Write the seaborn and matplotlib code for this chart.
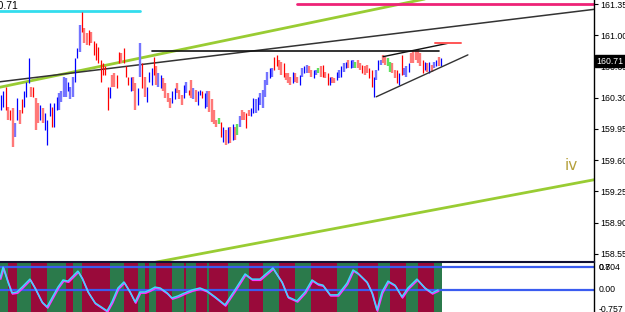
import matplotlib
matplotlib.use("Agg")
import matplotlib.pyplot as plt
import matplotlib.transforms as mtransforms
import numpy as np
import pandas as pd
import seaborn as sns

# Heiken-Ashi style price bars: kind, top and bottom price of every bar
# b/r = thin blue/red shadow, B/R = thick light body, g = green body
bar_kind = ("bbrRrRBbRrbbbRrRRbRbbbrbbBBBBbBBbbBrRRrRrrrrrrrbR"
            "RrrRrrrbRRbBrRbbbrRBbRRRRbbRRRbBrRBRbbrbBRRRRgrb"
            "RbRbRgBRRrRbbBbBBBBbBrrRRrRRRbRRbBbBRRbBgRrRrbR"
            "RbBbBbRbBgRRrRRrrbBbBRRggRRrbrBBbRRRRRrbRbRBbRb")
bar_high = [160.33, 160.37, 160.42, 160.20, 160.16, 160.19, 160.02, 160.30, 160.16, 160.28,
            160.37, 160.48, 160.75, 160.42, 160.42, 160.30, 160.24, 160.22, 160.19, 160.13,
            160.05, 160.24, 160.20, 160.24, 160.31, 160.35, 160.37, 160.53, 160.52, 160.48,
            160.42, 160.53, 160.75, 160.86, 161.12, 161.26, 161.08, 161.03, 161.06, 161.04,
            160.93, 160.91, 160.87, 160.72, 160.69, 160.65, 160.42, 160.42, 160.56,
            160.58, 160.56, 160.81, 160.80, 160.86, 160.65, 160.53, 160.53, 160.53, 160.47,
            160.41, 160.91, 160.69, 160.53, 160.42, 160.59, 160.63, 160.76, 160.65, 160.58,
            160.56, 160.52, 160.47, 160.35, 160.30, 160.37, 160.41, 160.47, 160.39, 160.33,
            160.44, 160.48, 160.39, 160.50, 160.41, 160.39, 160.37, 160.39, 160.37, 160.35,
            160.37, 160.37, 160.28, 160.16, 160.05, 160.07, 160.03, 159.97,
            159.94, 159.97, 159.97, 160.00, 159.97, 160.00, 160.09, 160.16, 160.14, 160.13,
            160.16, 160.19, 160.30, 160.28, 160.31, 160.35, 160.39, 160.50, 160.59, 160.63,
            160.63, 160.76, 160.78, 160.72, 160.70, 160.69, 160.58, 160.58, 160.53, 160.59,
            160.58, 160.53, 160.56, 160.63, 160.65, 160.67, 160.65, 160.61, 160.61, 160.61,
            160.63, 160.65, 160.67, 160.59, 160.58, 160.53, 160.53,
            160.52, 160.59, 160.61, 160.65, 160.69, 160.70, 160.72, 160.72, 160.72, 160.70,
            160.72, 160.69, 160.67, 160.65, 160.67, 160.63, 160.61, 160.53, 160.61, 160.72,
            160.72, 160.78, 160.76, 160.75, 160.70, 160.69, 160.61, 160.61, 160.58, 160.78,
            160.63, 160.65, 160.69, 160.80, 160.84, 160.84, 160.84, 160.80, 160.72, 160.70,
            160.69, 160.70, 160.67, 160.70, 160.72, 160.76, 160.75]
bar_low = [160.16, 160.20, 160.16, 160.05, 160.05, 159.75, 159.86, 160.05, 160.00, 160.13,
           160.20, 160.31, 160.47, 160.31, 160.31, 159.94, 160.02, 160.05, 160.02, 159.94,
           159.77, 160.09, 159.97, 159.97, 160.16, 160.16, 160.25, 160.31, 160.31, 160.37,
           160.28, 160.31, 160.48, 160.75, 160.81, 161.04, 160.91, 160.89, 160.89, 160.91,
           160.78, 160.72, 160.69, 160.48, 160.56, 160.56, 160.16, 160.30, 160.42,
           160.42, 160.41, 160.69, 160.69, 160.69, 160.53, 160.44, 160.37, 160.37, 160.16,
           160.22, 160.53, 160.41, 160.31, 160.25, 160.48, 160.44, 160.56, 160.44, 160.42,
           160.41, 160.37, 160.30, 160.25, 160.19, 160.24, 160.28, 160.35, 160.28, 160.22,
           160.30, 160.35, 160.33, 160.30, 160.28, 160.25, 160.22, 160.33, 160.30, 160.19,
           160.20, 160.14, 160.03, 160.00, 159.97, 160.00, 159.86, 159.80,
           159.77, 159.79, 159.79, 159.83, 159.83, 159.88, 159.97, 160.05, 160.05, 159.96,
           160.09, 160.09, 160.13, 160.13, 160.16, 160.22, 160.19, 160.31, 160.44, 160.52,
           160.53, 160.61, 160.65, 160.61, 160.56, 160.53, 160.50, 160.47, 160.44, 160.47,
           160.48, 160.47, 160.44, 160.53, 160.58, 160.58, 160.58, 160.53, 160.52, 160.56,
           160.58, 160.53, 160.53, 160.52, 160.44, 160.44, 160.47,
           160.47, 160.50, 160.52, 160.53, 160.59, 160.63, 160.63, 160.63, 160.63, 160.63,
           160.63, 160.61, 160.58, 160.56, 160.58, 160.52, 160.42, 160.31, 160.50, 160.61,
           160.67, 160.69, 160.67, 160.65, 160.59, 160.58, 160.52, 160.47, 160.44, 160.56,
           160.56, 160.53, 160.59, 160.69, 160.69, 160.72, 160.69, 160.65, 160.58, 160.61,
           160.59, 160.58, 160.59, 160.63, 160.65, 160.65, 160.65]
last_price = 160.71

# drawn objects, anchored as (bar, price)
cyan_level = 161.27
cyan_bars = [-1, 60]
magenta_level = 161.35
magenta_start = 128
channel_top = [(0, 160.42), (180, 161.39)]
channel_bottom = [(86, 158.55), (256, 159.38)]
trend_line = [(0, 160.48), (256, 161.29)]
flat_line = [(65, 160.82), (189, 160.82)]
triangle_top = [(165, 160.76), (193, 160.91)]
triangle_bottom = [(162, 160.31), (201.6, 160.78)]
red_mark = [(187.4, 160.91), (198.6, 160.91)]

price_ticks = [161.35, 161.00, 160.65, 160.30, 159.95, 159.60, 159.25, 158.90, 158.55]

# indicator window
osc_bar = [-0.4, 0.9, 3.0, 4.7, 6.9, 9.1, 12.5, 14.7, 17.7, 19.9, 22.0, 24.6, 26.8, 28.9,
           33.2, 35.0, 37.6, 40.6, 45.8, 47.9, 50.5, 53.1, 55.7, 57.9, 60.0, 62.2, 64.3,
           66.5, 68.7, 71.7, 73.8, 76.4, 79.4, 82.5, 85.9, 88.9, 92.4, 96.7, 101.0, 105.4,
           108.4, 111.8, 117.4, 121.3, 123.9, 127.8, 131.3, 134.3, 136.9, 139.0, 142.1,
           145.5, 149.4, 152.0, 154.1, 158.0, 160.2, 162.3, 164.5, 167.1, 170.1, 173.1,
           175.7, 179.6, 183.1, 186.1, 188.7]
osc_val = [0.42, 0.80, 0.28, -0.10, -0.07, 0.10, 0.38, 0.07, -0.42, -0.59, -0.28, 0.10, 0.35,
           0.31, 0.66, 0.42, -0.07, -0.45, -0.73, -0.42, 0.07, 0.28, -0.07, -0.42, -0.07,
           -0.07, 0.00, 0.10, 0.07, -0.10, -0.28, -0.21, -0.10, 0.00, 0.07, -0.03, -0.24,
           -0.52, 0.00, 0.56, 0.38, 0.38, 0.77, 0.28, -0.24, -0.38, -0.07, 0.35, 0.21, 0.17,
           -0.17, -0.17, 0.24, 0.70, 0.59, 0.28, -0.10, -0.70, -0.07, 0.31, 0.17, -0.24,
           0.07, 0.38, 0.07, -0.10, 0.00]
band_edges = [-0.5, 3, 7, 13, 20, 28, 31, 35, 47, 53, 59, 62, 64, 67, 74, 79, 80, 84, 89, 90,
              98, 107, 113, 120, 127, 134, 145, 154, 163, 168, 175, 180, 187, 190.5]
osc_levels = [0.8, 0.0]

X_LIM = (-0.43, 256.05)
RED_BAND = "#990a3a"
GREEN_BAND = "#2b7a4b"
LABEL_FONT = ["Liberation Sans", "DejaVu Sans"]
LABEL_SIZE = 6.3

sns.set_style("white")
plt.rcParams["font.family"] = LABEL_FONT

fig = plt.figure(figsize=(6.25, 3.12), dpi=100)
ax = fig.add_axes([0, 0.1635, 0.9504, 0.8365])
ax2 = fig.add_axes([0, 0, 0.9504, 0.1603])


def segment(ax, pts, color, lw, extend=False):
    (x0, y0), (x1, y1) = pts
    if extend:
        k = (y1 - y0) / (x1 - x0)
        x0, x1 = -5, 300
        y0, y1 = pts[0][1] + k * (x0 - pts[0][0]), pts[0][1] + k * (x1 - pts[0][0])
    d = pd.DataFrame({"x": [x0, x1], "y": [y0, y1]})
    sns.lineplot(data=d, x="x", y="y", ax=ax, color=color, lw=lw, sort=False)


# trend objects behind bars
segment(ax, channel_top, "#99cc33", 2.0, extend=True)
segment(ax, channel_bottom, "#99cc33", 2.0, extend=True)
segment(ax, trend_line, "#333333", 1.1, extend=True)
segment(ax, [(cyan_bars[0], cyan_level), (cyan_bars[1], cyan_level)], "#33ddee", 2.0)
segment(ax, [(magenta_start, magenta_level), (300, magenta_level)], "#ee2277", 2.0)

bars = pd.DataFrame({"kind": list(bar_kind), "high": bar_high, "low": bar_low})
bars["i"] = np.arange(len(bars))
styles = {"B": ("#7474ff", 1.7), "R": ("#ff7878", 1.7), "g": ("#5ee05e", 1.7),
          "b": ("#0000ff", 0.9), "r": ("#ff0000", 0.9)}
for k in ["B", "R", "g", "b", "r"]:
    sub = bars[bars["kind"] == k]
    ax.vlines(sub["i"], sub["low"], sub["high"], colors=styles[k][0], lw=styles[k][1])

segment(ax, flat_line, "#111111", 1.2)
segment(ax, triangle_top, "#111111", 1.0)
segment(ax, triangle_bottom, "#333333", 1.0)
segment(ax, red_mark, "#ff5555", 1.4)

ax.text(565 / 594, 0.365, "iv", transform=ax.transAxes, color="#b5a03c", fontsize=11,
        ha="left", va="center", family="DejaVu Sans")
ax.text(0.031, 0.978, "160.71", transform=ax.transAxes, color="black", fontsize=7.5,
        ha="right", va="center")

ax.set_xlim(*X_LIM)
ax.set_ylim(158.47, 161.395)
ax.set_yticks(price_ticks)
ax.set_yticklabels([f"{t:.2f}" for t in price_ticks])
ax.set_xticks([])
ax.set_xlabel("")
ax.set_ylabel("")
ax.yaxis.tick_right()
for s in ["top", "left", "bottom"]:
    ax.spines[s].set_visible(False)
ax.spines["right"].set_color("black")
ax.spines["right"].set_linewidth(1.0)
ax.tick_params(axis="y", right=True, length=3, width=0.8, pad=1.5, labelsize=LABEL_SIZE,
               colors="black", direction="out")
ax.annotate("160.71", xy=(1.0, last_price), xycoords=("axes fraction", "data"),
            xytext=(2, 0), textcoords="offset points", fontsize=LABEL_SIZE, color="white",
            va="center", ha="left",
            bbox=dict(boxstyle="square,pad=0.2", fc="black", ec="black"))

# indicator
for j in range(len(band_edges) - 1):
    ax2.axvspan(band_edges[j], band_edges[j + 1], color=GREEN_BAND if j % 2 == 0 else RED_BAND,
                lw=0)
for lv in osc_levels:
    ax2.axhline(lv, color="#3a5cf0", lw=1.6)
osc = pd.DataFrame({"bar": osc_bar, "val": osc_val})
shadow = mtransforms.offset_copy(ax2.transData, fig=fig, x=0.5, y=-0.8, units="points")
ax2.plot(osc["bar"], osc["val"], color="#ff33ff", lw=1.2, transform=shadow)
sns.lineplot(data=osc, x="bar", y="val", ax=ax2, color="#40d8ff", lw=1.1, sort=False)
ax2.set_xlim(*X_LIM)
ax2.set_ylim(-0.77, 0.98)
ax2.set_xticks([])
ax2.set_yticks([])
ax2.set_xlabel("")
ax2.set_ylabel("")
for s in ["left", "bottom"]:
    ax2.spines[s].set_visible(False)
ax2.spines["top"].set_color("#111133")
ax2.spines["top"].set_linewidth(1.5)
ax2.spines["right"].set_color("black")
ax2.spines["right"].set_linewidth(1.0)
for val, lab in [(0.8, "0.7"), (0.8, "0.804"), (0.0, "0.00"), (-0.68, "-0.757")]:
    ax2.text(1.008, val, lab, transform=ax2.get_yaxis_transform(), fontsize=LABEL_SIZE,
             color="black", va="center", ha="left", clip_on=False)

fig.savefig("out.png", dpi=100)
